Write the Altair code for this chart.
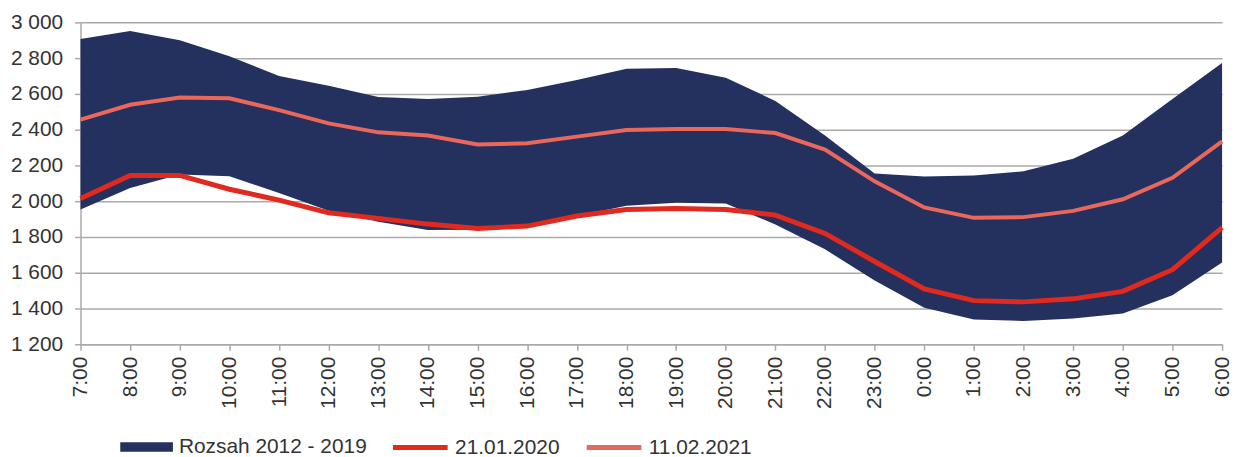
import altair as alt
import pandas as pd

hours = ["7:00", "8:00", "9:00", "10:00", "11:00", "12:00", "13:00", "14:00", "15:00",
         "16:00", "17:00", "18:00", "19:00", "20:00", "21:00", "22:00", "23:00", "0:00",
         "1:00", "2:00", "3:00", "4:00", "5:00", "6:00"]

range_upper = [2907, 2952, 2900, 2811, 2700, 2646, 2583, 2571, 2584, 2622, 2678, 2740,
               2745, 2690, 2561, 2367, 2155, 2138, 2144, 2167, 2238, 2367, 2571, 2773]
range_lower = [1954, 2074, 2150, 2139, 2046, 1946, 1885, 1839, 1840, 1852, 1917, 1974,
               1991, 1987, 1870, 1731, 1556, 1404, 1339, 1330, 1344, 1372, 1474, 1657]
day_2020 = [2015, 2144, 2144, 2067, 2006, 1935, 1904, 1872, 1848, 1861, 1917, 1954,
            1959, 1954, 1922, 1820, 1663, 1509, 1444, 1437, 1454, 1496, 1617, 1852]
day_2021 = [2456, 2539, 2580, 2576, 2509, 2435, 2385, 2367, 2317, 2324, 2361, 2398,
            2404, 2404, 2381, 2289, 2111, 1965, 1907, 1911, 1946, 2011, 2131, 2335]

band_label = "Rozsah 2012 - 2019"
series_names = ["21.01.2020", "11.02.2021"]
y_ticks = [1200, 1400, 1600, 1800, 2000, 2200, 2400, 2600, 2800, 3000]

NAVY = "#24305e"
RED = "#e0291f"
LIGHT = "#ea675c"
GRID = "#aaaaaa"
TEXT = "#333333"
FONT = "Liberation Sans"

band_df = pd.DataFrame({"hour": hours, "lower": range_lower, "upper": range_upper,
                        "band": [band_label] * len(hours)})
lines_df = pd.DataFrame({
    "hour": hours * 2,
    "value": day_2020 + day_2021,
    "series": [series_names[0]] * len(hours) + [series_names[1]] * len(hours),
})

x_enc = alt.X("hour:O", sort=hours, title=None,
              scale=alt.Scale(type="point", padding=0),
              axis=alt.Axis(labelAngle=270, labelAlign="right", labelBaseline="middle",
                            labelPadding=6, tickSize=6, tickColor=GRID, tickWidth=1.5,
                            domainColor=GRID, domainWidth=1.5, grid=False,
                            labelOverlap=False,
                            labelFont=FONT, labelFontSize=21, labelColor=TEXT))

y_axis = alt.Axis(values=y_ticks, grid=True, gridColor=GRID, gridWidth=1.5,
                  tickSize=6, tickColor=GRID, tickWidth=1.5, domainColor=GRID,
                  domainWidth=1.5, labelPadding=12, labelFont=FONT, labelFontSize=21,
                  labelColor=TEXT, labelOverlap=False, labelFlush=False,
                  labelExpr="replace(format(datum.value, ','), ',', ' ')")
y_scale = alt.Scale(domain=[1200, 3000], nice=False)

band = alt.Chart(band_df).mark_area(opacity=1).encode(
    x=x_enc,
    y=alt.Y("lower:Q", title=None, scale=y_scale, axis=y_axis),
    y2="upper:Q",
    color=alt.Color("band:N", scale=alt.Scale(domain=[band_label], range=[NAVY]),
                    legend=alt.Legend(title=None, orient="none", legendX=39, legendY=400,
                                      direction="horizontal", padding=0,
                                      symbolType="M-1,-0.18L1,-0.18L1,0.18L-1,0.18Z",
                                      symbolSize=2809, symbolOpacity=1,
                                      labelOffset=5, labelLimit=400, labelFont=FONT,
                                      labelFontSize=21, labelColor=TEXT)),
)

stroke_enc = alt.Stroke("series:N",
                        scale=alt.Scale(domain=series_names, range=[RED, LIGHT]),
                        legend=alt.Legend(title=None, orient="none", legendX=312,
                                          legendY=398, direction="horizontal", padding=0,
                                          symbolType="M-1,0L1,0", symbolSize=3025,
                                          symbolStrokeWidth=5, labelOffset=5,
                                          labelLimit=400,
                                          columnPadding=16, labelFont=FONT,
                                          labelFontSize=21, labelColor=TEXT))

y_line = alt.Y("value:Q", title=None, scale=y_scale, axis=y_axis)

line_2021 = alt.Chart(lines_df).transform_filter(
    alt.datum.series == series_names[1]
).mark_line(strokeWidth=4).encode(x=x_enc, y=y_line, stroke=stroke_enc)

line_2020 = alt.Chart(lines_df).transform_filter(
    alt.datum.series == series_names[0]
).mark_line(strokeWidth=5).encode(x=x_enc, y=y_line, stroke=stroke_enc)

chart = alt.layer(band, line_2021, line_2020).properties(
    width=1149, height=324,
    autosize=alt.AutoSizeParams(type="none"),
    padding={"left": 73, "top": 13, "right": 12, "bottom": 112},
).configure_view(strokeWidth=0)

chart.save("out.html", embed_options={"renderer": "svg", "actions": False})
